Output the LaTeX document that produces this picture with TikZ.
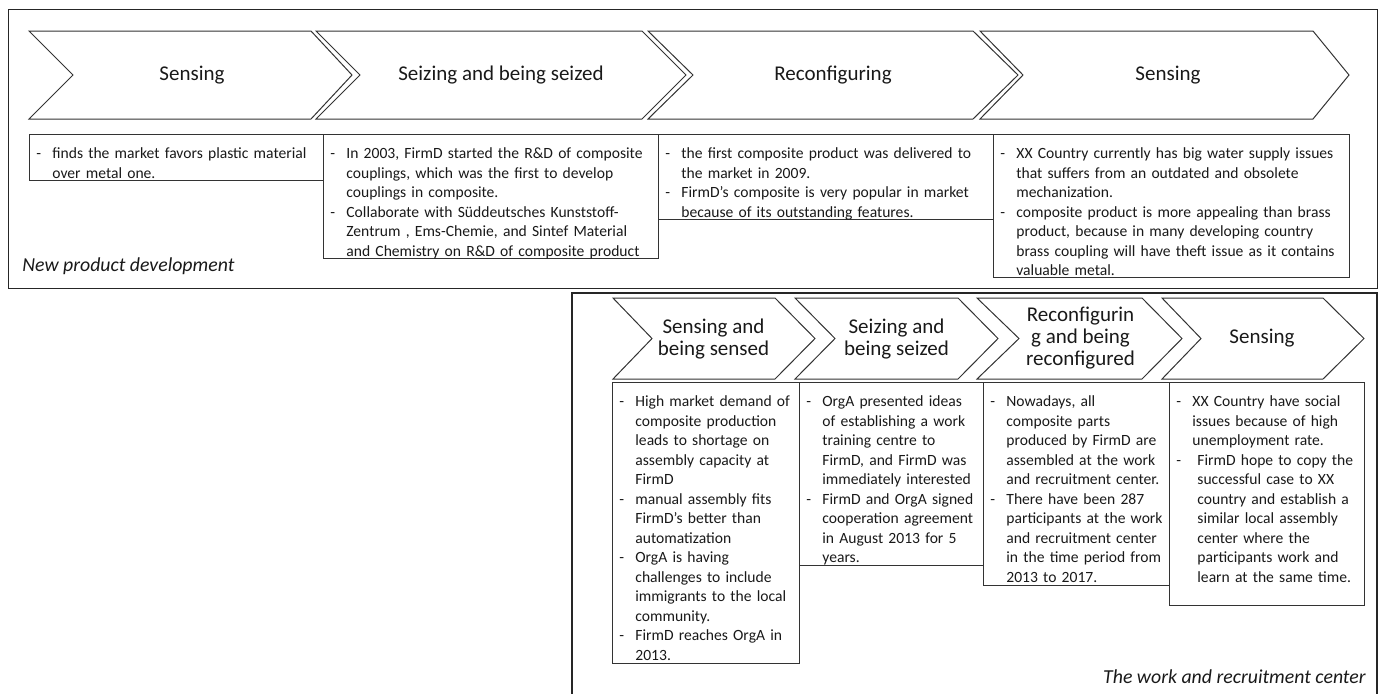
\documentclass[tikz,border=0pt]{standalone}
\usepackage{fontspec}
\setmainfont{Carlito}
\newcommand\nl{\unskip\nobreak\hfil\break}
\newcommand\bitem[1]{\par\noindent\hangindent=8pt\hangafter=1\rightskip=0pt plus 1fil\makebox[8pt][l]{\strut-}#1\par}
\newcommand\bitemx[1]{\par\noindent\hangindent=10.5pt\hangafter=1\rightskip=0pt plus 1fil\makebox[10.5pt][l]{\strut-}#1\par}
\newcommand\mychev[8]{%
  \draw[chevline] (#2,#4) -- (#3,#4) -- ({#3+#7},{(#4+#5)/2}) -- (#3,#5) -- (#2,#5) -- ({#2+#6},{(#4+#5)/2}) -- cycle;
  \node[chevtext] (#1) at ({(#2+#6+#3)/2},{(#4+#5)/2}) {#8};}
\begin{document}
\begin{tikzpicture}[x=0.5pt,y=-0.5pt,
  chevline/.style={draw=black!80, line width=0.5pt},
  chevtext/.style={font=\fontsize{10.5pt}{11pt}\selectfont, align=center, inner sep=0pt, text=black!90},
  boxst/.style={draw=black!80, line width=0.5pt, anchor=north west, inner sep=0pt},
  txtst/.style={anchor=north west, inner sep=0pt, text=black!90, font=\fontsize{7.8pt}{9.75pt}\selectfont},
  framest/.style={draw=black!85, line width=0.6pt},
  caption/.style={font=\fontsize{9.9pt}{11pt}\selectfont\itshape, inner sep=0pt, text=black!90}]
\useasboundingbox (0,0) rectangle (1380,693);

% frames
\node[framest, anchor=north west, minimum width=684.5pt, minimum height=139.5pt, inner sep=0pt] (f1) at (8,9) {};
\draw[framest] (572,700) -- (572,293) -- (1377,293) -- (1377,700);

% top chevrons
\mychev{c1}{29}{311}{31}{119}{44}{41}{Sensing}
\mychev{c2}{316}{642}{31}{119}{44}{44}{Seizing and being seized}
\mychev{c3}{648}{973}{31}{119}{45}{45}{Reconfiguring}
\mychev{c4}{980}{1313}{31}{119}{43}{36}{Sensing}

% top boxes
\node[boxst, minimum width=147pt, minimum height=23pt] (b1) at (29,134) {};
\node[boxst, minimum width=167.5pt, minimum height=62pt] (b2) at (323,134) {};
\node[boxst, minimum width=167.5pt, minimum height=42.5pt] (b3) at (658,134) {};
\node[boxst, minimum width=178pt, minimum height=71.5pt] (b4) at (993,134) {};

\node[txtst, text width=157pt] (t1) at (36,139) {%
\bitem{finds the market favors plastic material\nl over metal one.}};
\node[txtst, text width=177pt] (t2) at (330,139) {%
\bitem{In 2003, FirmD started the R\&D of composite\nl couplings, which was the first to develop\nl couplings in composite.}%
\bitem{Collaborate with Süddeutsches Kunststoff-\nl Zentrum , Ems-Chemie, and Sintef Material\nl and Chemistry on R\&D of composite product}};
\node[txtst, text width=177pt] (t3) at (665,139) {%
\bitem{the first composite product was delivered to\nl the market in 2009.}%
\bitem{FirmD’s composite is very popular in market\nl because of its outstanding features.}};
\node[txtst, text width=188pt] (t4) at (1000,139) {%
\bitem{XX Country currently has big water supply issues\nl that suffers from an outdated and obsolete\nl mechanization.}%
\bitem{composite product is more appealing than brass\nl product, because in many developing country\nl brass coupling will have theft issue as it contains\nl valuable metal.}};

\node[caption, anchor=west] (cap1) at (22,266) {New product development};

% lower chevrons
\mychev{l1}{613}{775}{298}{379}{39}{40}{Sensing and\\being sensed}
\mychev{l2}{795}{958}{298}{379}{40}{40}{Seizing and\\being seized}
\mychev{l3}{977}{1142}{298}{379}{42}{40}{Reconfigurin\\g and being\\reconfigured}
\mychev{l4}{1162}{1323}{298}{379}{39}{41}{Sensing}

% lower boxes
\node[boxst, minimum width=93.5pt, minimum height=140.5pt] (d1) at (612,382) {};
\node[boxst, minimum width=92pt, minimum height=91.5pt] (d2) at (799,382) {};
\node[boxst, minimum width=93pt, minimum height=101.5pt] (d3) at (983,382) {};
\node[boxst, minimum width=97.5pt, minimum height=111.5pt] (d4) at (1169,382) {};

\node[txtst, text width=104pt] (u1) at (619,387) {%
\bitem{High market demand of\nl composite production\nl leads to shortage on\nl assembly capacity at\nl FirmD}%
\bitem{manual assembly fits\nl FirmD’s better than\nl automatization}%
\bitem{OrgA is having\nl challenges to include\nl immigrants to the local\nl community.}%
\bitem{FirmD reaches OrgA in\nl 2013.}};
\node[txtst, text width=102pt] (u2) at (806,387) {%
\bitem{OrgA presented ideas\nl of establishing a work\nl training centre to\nl FirmD, and FirmD was\nl immediately interested}%
\bitem{FirmD and OrgA signed\nl cooperation agreement\nl in August 2013 for 5\nl years.}};
\node[txtst, text width=103pt] (u3) at (990,387) {%
\bitem{Nowadays, all\nl composite parts\nl produced by FirmD are\nl assembled at the work\nl and recruitment center.}%
\bitem{There have been 287\nl participants at the work\nl and recruitment center\nl in the time period from\nl 2013 to 2017.}};
\node[txtst, text width=108pt] (u4) at (1176,387) {%
\bitem{XX Country have social\nl issues because of high\nl unemployment rate.}%
\bitemx{FirmD hope to copy the\nl successful case to XX\nl country and establish a\nl similar local assembly\nl center where the\nl participants work and\nl learn at the same time.}};

\node[caption, anchor=east] (cap2) at (1366,677) {The work and recruitment center};
\end{tikzpicture}
\end{document}
